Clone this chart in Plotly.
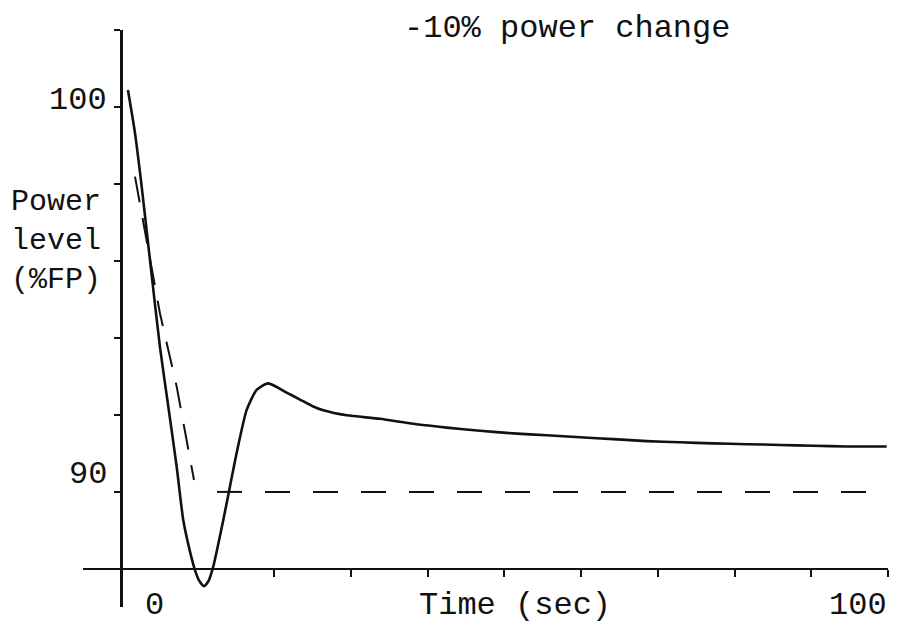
import plotly.graph_objects as go

# Measured reactor power response (%FP) to a -10% power demand step
time_s = [0.91, 1.83, 2.70, 3.78, 5.08, 6.17, 7.26, 8.12, 9.00, 9.65, 10.17,
          10.82, 11.40, 12.03, 13.34, 14.21, 15.08, 16.39, 17.69, 19.20, 21.60,
          23.34, 25.07, 26.38, 29.43, 33.77, 38.11, 42.46, 46.81, 51.15, 55.50,
          59.84, 64.19, 68.54, 72.88, 77.22, 81.58, 85.92, 90.26, 94.61, 99.83]
power = [100.44, 99.32, 97.93, 96.03, 93.77, 92.22, 90.66, 89.27, 88.45, 87.97,
         87.70, 87.55, 87.68, 88.06, 89.27, 90.14, 91.01, 92.13, 92.65, 92.82,
         92.58, 92.40, 92.22, 92.12, 91.99, 91.90, 91.77, 91.67, 91.59, 91.52,
         91.47, 91.42, 91.37, 91.32, 91.29, 91.26, 91.24, 91.22, 91.20, 91.18,
         91.18]

# Demanded power: ramp down, then the new 90 %FP setpoint
ramp_time = [1.83, 5.08, 7.26, 9.52]
ramp_power = [98.19, 94.64, 92.74, 90.31]
setpoint_time = [12.52, 100.0]
setpoint_power = [90.0, 90.0]

x_ticks = [20, 30, 40, 50, 60, 70, 80, 90, 100]
y_ticks = [90, 92, 94, 96, 98, 100, 102]

FONT = "Liberation Mono, Courier New, monospace"
INK = "#111111"

fig = go.Figure()
fig.add_trace(go.Scatter(x=time_s, y=power, mode="lines",
                         line=dict(color=INK, width=2.6, shape="spline", smoothing=0.6),
                         showlegend=False, hoverinfo="skip"))
fig.add_trace(go.Scatter(x=ramp_time, y=ramp_power, mode="lines",
                         line=dict(color=INK, width=2, dash="26px,16px"),
                         showlegend=False, hoverinfo="skip"))
fig.add_trace(go.Scatter(x=setpoint_time, y=setpoint_power, mode="lines",
                         line=dict(color=INK, width=2, dash="25px,23px"),
                         showlegend=False, hoverinfo="skip"))

x_range = [-4.95, 100.0]
y_range = [87.01, 102.0]

fig.update_layout(
    width=898, height=625,
    margin=dict(l=83, r=10, t=30, b=18),
    paper_bgcolor="white", plot_bgcolor="white",
    font=dict(family=FONT, size=32, color=INK),
    xaxis=dict(range=x_range, anchor="free",
               position=(88 - y_range[0]) / (y_range[1] - y_range[0]),
               showline=True, linecolor=INK, linewidth=2,
               tickmode="array", tickvals=x_ticks, ticks="outside",
               ticklen=7, tickwidth=2, tickcolor=INK,
               showticklabels=False, showgrid=False, zeroline=False),
    yaxis=dict(range=y_range, anchor="free",
               position=(0 - x_range[0]) / (x_range[1] - x_range[0]),
               showline=True, linecolor=INK, linewidth=2.8,
               tickmode="array", tickvals=y_ticks, ticks="outside",
               ticklen=6, tickwidth=2, tickcolor=INK,
               showticklabels=False, showgrid=False, zeroline=False),
)


def to_paper_x(v):
    return (v - x_range[0]) / (x_range[1] - x_range[0])


def to_paper_y(v):
    return (v - y_range[0]) / (y_range[1] - y_range[0])


def label(text, x, y, xanchor="center", size=32, align="center"):
    # positions given in data units, placed through paper coordinates so
    # that labels outside the axis ranges are still drawn
    fig.add_annotation(text=text, x=to_paper_x(x), y=to_paper_y(y),
                       xref="paper", yref="paper", align=align,
                       xanchor=xanchor, yanchor="middle", showarrow=False,
                       font=dict(family=FONT, size=size, color=INK))


label("-10% power change", 58.2, 102.05)
label("Time (sec)", 51.4, 87.06)
label("0", 4.43, 87.04)
label("100", 96.1, 87.06)
label("100", -1.5, 100.18, xanchor="right")
label("90", -1.5, 90.44, xanchor="right")
label("Power<br>level<br>(%FP)", -14.6, 96.52, xanchor="left", size=30, align="left")

fig.write_html("out.html")
